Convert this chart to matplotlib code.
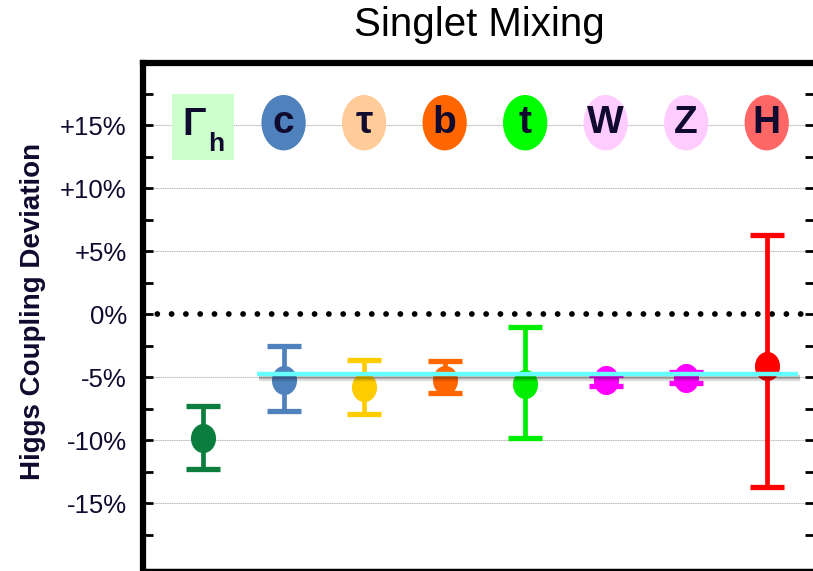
import matplotlib
matplotlib.use('Agg')
import matplotlib.pyplot as plt
import matplotlib.patheffects as pe
from matplotlib.patches import Ellipse, Rectangle
from matplotlib.path import Path
from matplotlib.transforms import Affine2D

plt.rcParams['font.family'] = ['Liberation Sans', 'DejaVu Sans']

# couplings and their projected deviations (percent)
labels = ['Γh', 'c', 'τ', 'b', 't', 'W', 'Z', 'H']
central = [-9.8, -5.25, -5.8, -5.2, -5.55, -5.2, -5.05, -4.1]
upper = [-7.3, -2.5, -3.65, -3.75, -1.0, -4.85, -4.6, 6.25]
lower = [-12.25, -7.65, -7.9, -6.25, -9.8, -5.7, -5.42, -13.75]
mixing_shift = -4.78

ytick_vals = [15, 10, 5, 0, -5, -10, -15]
ytick_labels = ['+15%', '+10%', '+5%', '0%', '-5%', '-10%', '-15%']

bar_colors = ['#0B7E3E', '#4F81BD', '#FFCC00', '#FF6600', '#00EE00',
              '#FF00FF', '#FF00FF', '#FF0000']
badge_colors = ['#CCFFCC', '#4F81BD', '#FFCC99', '#FF6600', '#00FF00',
                '#FFCCFF', '#FFCCFF', '#FF6666']
navy = '#0F0A2E'

x = list(range(1, len(labels) + 1))

fig = plt.figure(figsize=(8.13, 5.71), dpi=100)
ax = fig.add_axes([0.1765, 0.0018, 0.826, 0.887])
ax.set_xlim(0.26, 8.6)
ax.set_ylim(-20.3, 19.9)

# grid + zero line
for v in ytick_vals:
    if v != 0:
        ax.axhline(v, color='#b5b5b5', lw=0.8, ls=(0, (1, 0.6)), zorder=0.5)
ax.axhline(0, color='black', lw=4.2, ls=(0, (0.001, 2.45)),
           dash_capstyle='round', zorder=1)

# oval markers, a bit taller than wide
oval = Path.unit_circle().transformed(Affine2D().scale(0.86, 1.0))

for i in range(len(labels)):
    ax.errorbar(x[i], central[i],
                yerr=[[central[i] - lower[i]], [upper[i] - central[i]]],
                color=bar_colors[i], ecolor=bar_colors[i], marker=oval,
                ms=21, mec='none', ls='none', elinewidth=3.4,
                capsize=12.5, capthick=3.8, zorder=3)

# cyan band for the common shift, with drop shadow
ax.plot([1.67, 8.39], [mixing_shift, mixing_shift], color='#66FFFF', lw=3.2,
        solid_capstyle='butt', zorder=5,
        path_effects=[pe.SimpleLineShadow(offset=(1.5, -2.0), alpha=0.2,
                                          shadow_color='black'),
                      pe.SimpleLineShadow(offset=(1.5, -3.2), alpha=0.12,
                                          shadow_color='black'),
                      pe.Normal()])

# coupling badges along the top
badge_y = 15.2
for i in range(len(labels)):
    if labels[i] == 'Γh':
        ax.add_patch(Rectangle((x[i] - 0.39, badge_y - 2.95), 0.78, 5.2,
                               facecolor=badge_colors[i], edgecolor='none',
                               zorder=2))
        ax.annotate('Γ', (x[i], badge_y), xytext=(-6.5, -2),
                    textcoords='offset points', ha='center', va='center',
                    fontsize=28, fontweight='bold', color=navy, zorder=6)
        ax.annotate('h', (x[i], badge_y), xytext=(9.5, -15),
                    textcoords='offset points', ha='center', va='center',
                    fontsize=19, fontweight='bold', color=navy, zorder=6)
    else:
        ax.add_patch(Ellipse((x[i], badge_y), 0.55, 4.4,
                             facecolor=badge_colors[i], edgecolor='none',
                             zorder=2))
        ax.text(x[i], badge_y, labels[i], ha='center', va='center',
                fontsize=28, fontweight='bold', color=navy, zorder=6)

# axes styling
ax.set_xticks([])
ax.set_yticks(ytick_vals)
ax.set_yticklabels(ytick_labels, fontsize=18.5, color=navy)
ax.set_yticks([17.5, 12.5, 7.5, 2.5, -2.5, -7.5, -12.5, -17.5], minor=True)
ax.tick_params(axis='y', which='both', direction='in', length=7, width=2,
               left=True, right=True, pad=12)
ax.spines['left'].set_linewidth(4.5)
ax.spines['top'].set_linewidth(4.5)
ax.spines['bottom'].set_linewidth(2.5)
ax.spines['right'].set_visible(False)

ax.set_ylabel('Higgs Coupling Deviation', fontsize=20, fontweight='bold',
              color=navy)
ax.yaxis.set_label_coords(-0.145, 0.51)
ax.set_title('Singlet Mixing', fontsize=29, pad=20)

fig.savefig('out.png', dpi=100)
